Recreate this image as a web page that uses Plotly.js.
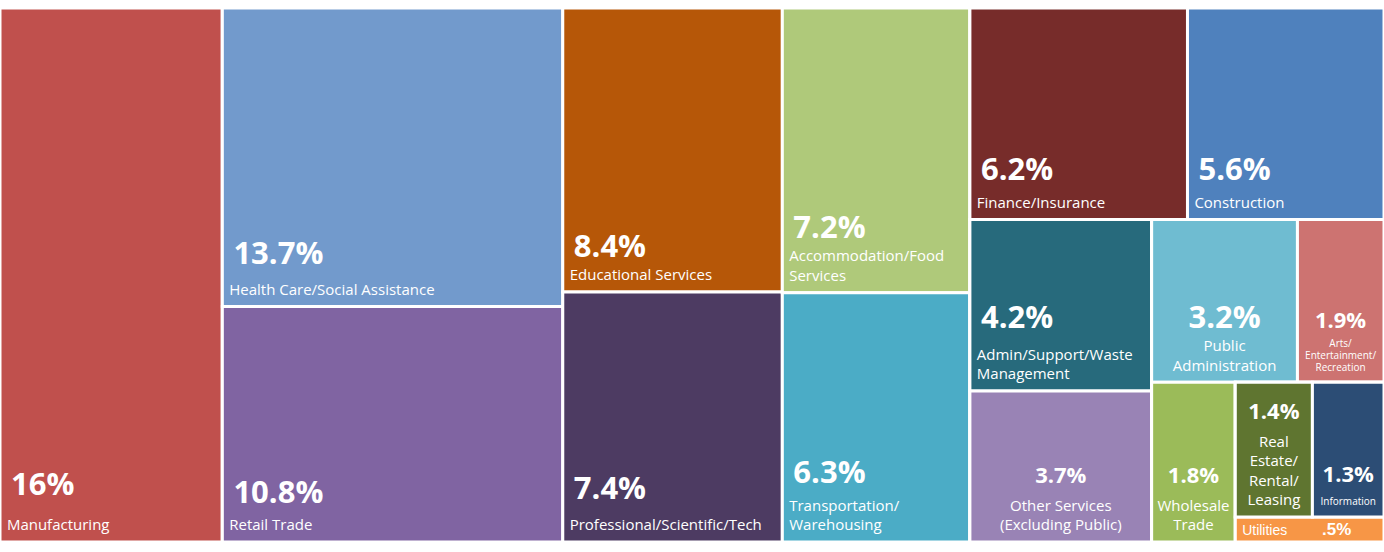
<!DOCTYPE html>
<html>
<head>
<meta charset="utf-8">
<script src="https://cdn.plot.ly/plotly-3.0.1.min.js"></script>
<style>html,body{margin:0;padding:0;background:#fff;}#chart{width:1384px;height:552px;}</style>
</head>
<body>
<div id="chart"></div>
<script>
// Industries (leaves) and their shares (%)
const industries = [
  "Manufacturing", "Health Care/Social Assistance", "Retail Trade",
  "Educational Services", "Professional/Scientific/Tech",
  "Accommodation/Food Services", "Transportation/Warehousing",
  "Finance/Insurance", "Construction",
  "Admin/Support/Waste Management", "Other Services (Excluding Public)",
  "Public Administration", "Arts/Entertainment/Recreation",
  "Wholesale Trade", "Real Estate/Rental/Leasing", "Information", "Utilities"
];
const shares = [16, 13.7, 10.8, 8.4, 7.4, 7.2, 6.3, 6.2, 5.6, 4.2, 3.7, 3.2, 1.9, 1.8, 1.4, 1.3, 0.5];
// Label text as shown (line breaks as in the original)
const displayNames = [
  "Manufacturing", "Health Care/Social Assistance", "Retail Trade",
  "Educational Services", "Professional/Scientific/Tech",
  "Accommodation/Food<br>Services", "Transportation/<br>Warehousing",
  "Finance/Insurance", "Construction",
  "Admin/Support/Waste<br>Management", "Other Services<br>(Excluding Public)",
  "Public<br>Administration", "Arts/<br>Entertainment/<br>Recreation",
  "Wholesale<br>Trade", "Real<br>Estate/<br>Rental/<br>Leasing", "Information", "Utilities"
];
// Invisible grouping that gives the tile arrangement
const leafParents  = ["root", "c2", "c2", "c3", "c3", "c4", "c4", "r5", "r5", "sa", "sa", "rb1", "rb1", "rb2", "r6", "r6", "g5"];
const groupIds     = ["root", "c2", "c3", "c4", "c5", "r5", "b5", "sa", "sb", "rb1", "rb2", "g5", "r6"];
const groupParents = ["",     "root","root","root","root","c5","c5","b5","b5","sb",  "sb",  "rb2","g5"];
// sibling order (depth first); L<i> = industries[i]
const nodeOrder = ["root","L0","c2","L1","L2","c3","L3","L4","c4","L5","L6","c5","r5","L7","L8",
  "b5","sa","L9","L10","sb","rb1","L11","L12","rb2","L13","g5","r6","L14","L15","L16"];

// styles
const tileColors = ["#C0504D", "#729ACC", "#8064A2", "#B65708", "#4D3B62", "#AFC97A", "#4BACC6",
  "#772C2A", "#4F81BD", "#276A7C", "#9983B5", "#6FBCD1", "#CD7371", "#9BBB59", "#5F7530", "#2C4D75", "#F79646"];
const pctSizes   = [31, 31, 31, 31, 31, 31, 31, 31, 31, 31, 22, 31, 22, 22, 22, 22, 17];
const nameSizes  = [15, 15, 15, 15, 15, 15, 15, 15, 15, 15, 15, 15, 10, 15, 15, 10, 14];
const firstGaps  = [35, 30, 26, 23, 33, 22, 29, 28, 28, 33, 26, 23, 18, 26, 26, 22, 0];
const lineGaps   = [21, 21, 21, 21, 21, 21, 20, 21, 21, 20, 20, 21, 13.5, 19, 21, 21, 0];
const centered   = [0, 0, 0, 0, 0, 0, 0, 0, 0, 0, 1, 1, 1, 1, 1, 1, 0];
const UNIT = 3;                  // base font size: one line break = 1.3 * UNIT px
const TAIL_BREAKS = 2;
const MAIN_FONT = "Open Sans, sans-serif";
const COMPACT_FONT = "Liberation Sans, Arial, sans-serif";   // for the very flat Utilities tile

function pctText(v) { return String(v).replace(/^0\./, ".") + "%"; }
function span(s, size) { return '<span style="font-size:' + size + 'px">' + s + '</span>'; }
function breaks(px) { return "<br>".repeat(Math.max(1, Math.round(px / (1.3 * UNIT)))); }

function buildText(i, indent) {
  const pad = indent ? "\u00A0" : "";
  const pct = '<b>' + span(pad + pctText(shares[i]), pctSizes[i]) + '</b>';
  if (industries[i] === "Utilities") {
    return span("\u00A0" + displayNames[i] + "\u00A0".repeat(9), nameSizes[i]) + '<b>' + span(pctText(shares[i]), pctSizes[i]) + '</b>';
  }
  const lines = displayNames[i].split("<br>").map(s => span(pad + s, nameSizes[i]));
  return pct + breaks(firstGaps[i]) + lines.join(breaks(lineGaps[i])) +
         "<br>".repeat(TAIL_BREAKS) + "\u00A0";
}

const groupIndex = {}; groupIds.forEach((g, i) => groupIndex[g] = i);

function makeTrace(centerLayer) {
  const ids = [], labels = [], parents = [], values = [], colors = [], texts = [], fams = [];
  nodeOrder.forEach(id => {
    if (id[0] === "L") {
      const i = +id.slice(1);
      ids.push(id); labels.push(industries[i]); parents.push(leafParents[i]); values.push(shares[i]);
      colors.push(centerLayer ? "rgba(0,0,0,0)" : tileColors[i]);
      const show = centerLayer ? centered[i] === 1 : centered[i] === 0;
      texts.push(show ? buildText(i, !centerLayer) : "");
      fams.push(industries[i] === "Utilities" ? COMPACT_FONT : MAIN_FONT);
    } else {
      const g = groupIndex[id];
      ids.push(id); labels.push(id); parents.push(groupParents[g]); values.push(0);
      colors.push(centerLayer ? "rgba(0,0,0,0)" : "#ffffff"); texts.push(""); fams.push(MAIN_FONT);
    }
  });
  return {
    type: "treemap",
    ids: ids, labels: labels, parents: parents, values: values,
    branchvalues: "remainder",
    sort: false,
    text: texts,
    textinfo: "text",
    textposition: centerLayer ? "bottom center" : "bottom left",
    textfont: { family: fams, size: UNIT, color: "#ffffff" },
    marker: { colors: colors, line: { color: centerLayer ? "rgba(0,0,0,0)" : "#ffffff", width: centerLayer ? 0 : 3 },
              pad: { t: 0, l: 0, r: 0, b: 0 } },
    leaf: { opacity: 1 },
    root: { color: "rgba(0,0,0,0)" },
    tiling: { packing: "slice-dice", pad: 0 },
    pathbar: { visible: false },
    hoverinfo: "none"
  };
}

Plotly.newPlot("chart", [makeTrace(false), makeTrace(true)], {
  width: 1384, height: 552,
  margin: { l: 0, r: 0, t: 8, b: 10 },
  paper_bgcolor: "#ffffff",
  showlegend: false
}, { displayModeBar: false, staticPlot: true });
</script>
</body>
</html>
